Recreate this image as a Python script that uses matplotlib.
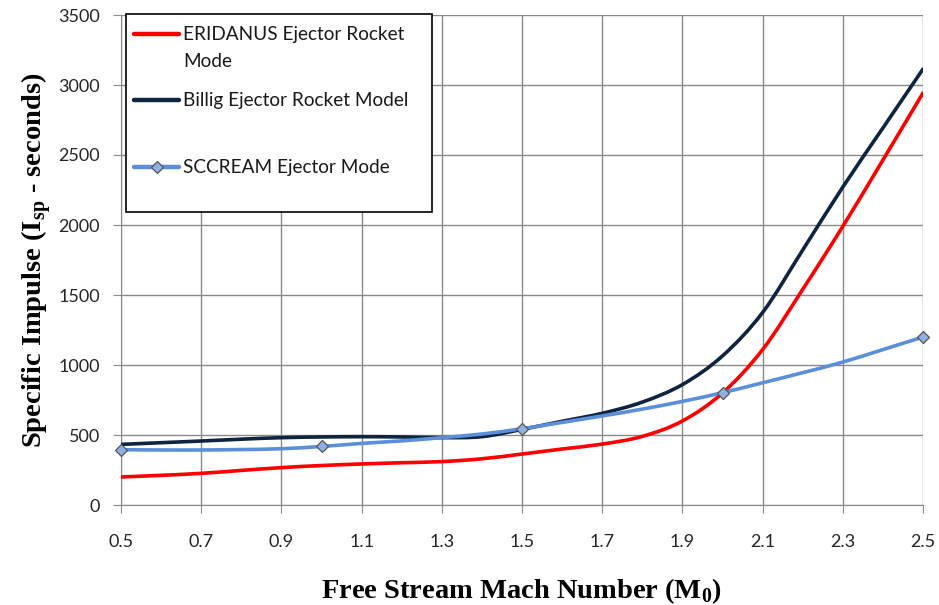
import numpy as np
import matplotlib.pyplot as plt
from matplotlib.path import Path
from matplotlib.patches import PathPatch, Rectangle
from matplotlib.lines import Line2D

plt.rcParams.update({
    "font.family": ["Lato", "DejaVu Sans"],
    "mathtext.fontset": "custom",
    "mathtext.rm": "Liberation Serif:bold",
    "mathtext.bf": "Liberation Serif:bold",
})

# Mach number, 0.1 steps
mach = [0.5, 0.6, 0.7, 0.8, 0.9, 1.0, 1.1, 1.2, 1.3, 1.4, 1.5,
        1.6, 1.7, 1.8, 1.9, 2.0, 2.1, 2.2, 2.3, 2.4, 2.5]

eridanus = [200, 212, 226, 247, 267, 282, 293, 302, 310, 330, 364,
            400, 435, 490, 600, 800, 1110, 1540, 1990, 2464, 2943]
billig = [433, 445, 457, 470, 481, 486, 488, 486, 481, 488, 540,
          598, 655, 735, 860, 1065, 1375, 1821, 2271, 2693, 3114]
sccream = [395, 393, 393, 396, 402, 418, 440, 458, 481, 507, 545,
           590, 636, 685, 740, 802, 873, 945, 1021, 1110, 1200]
sccream_marks = [0, 5, 10, 15, 20]

xticks = [0.5, 0.7, 0.9, 1.1, 1.3, 1.5, 1.7, 1.9, 2.1, 2.3, 2.5]
yticks = [0, 500, 1000, 1500, 2000, 2500, 3000, 3500]

labels = ["ERIDANUS Ejector Rocket\nMode", "Billig Ejector Rocket Model", "SCCREAM Ejector Mode"]
colors = ["#ff0000", "#0f243e", "#5b8fd9"]


def smooth_path(x, y):
    # smoothed line like a spreadsheet chart: Catmull-Rom through the points as Bezier segments
    x = np.asarray(x, float)
    y = np.asarray(y, float)
    pts = np.column_stack([x, y])
    verts = [pts[0]]
    codes = [Path.MOVETO]
    n = len(pts)
    for i in range(n - 1):
        p0 = pts[i - 1] if i > 0 else pts[i]
        p1, p2 = pts[i], pts[i + 1]
        p3 = pts[i + 2] if i + 2 < n else pts[i + 1]
        verts += [p1 + (p2 - p0) / 6, p2 - (p3 - p1) / 6, p2]
        codes += [Path.CURVE4] * 3
    return Path(verts, codes)


fig = plt.figure(figsize=(9.39, 6.05), dpi=100)
ax = fig.add_axes([121 / 939, 1 - 505 / 605, 802 / 939, 490 / 605])

lw = 2.6
ax.add_patch(PathPatch(smooth_path(mach, billig), fill=False, ec=colors[1], lw=lw, zorder=3,
                       capstyle="round"))
ax.add_patch(PathPatch(smooth_path(mach, eridanus), fill=False, ec=colors[0], lw=lw, zorder=4,
                       capstyle="round"))
ax.add_patch(PathPatch(smooth_path(mach, sccream), fill=False, ec=colors[2], lw=lw, zorder=5,
                       capstyle="round"))
mk = dict(marker="D", markersize=6.5, markerfacecolor="#8eb0e3", markeredgecolor="#555555",
          markeredgewidth=0.9)
ax.plot([mach[i] for i in sccream_marks], [sccream[i] for i in sccream_marks],
        ls="none", zorder=6, clip_on=False, **mk)

ax.set_xlim(0.5, 2.5)
ax.set_ylim(0, 3500)
ax.set_xticks(xticks)
ax.set_xticklabels([f"{t:.1f}" for t in xticks])
ax.set_yticks(yticks)
ax.grid(True, color="#8a8a8a", lw=1.0)
ax.set_axisbelow(True)
for s in ["top", "right"]:
    ax.spines[s].set_visible(False)
for s in ["left", "bottom"]:
    ax.spines[s].set_color("#8a8a8a")
ax.tick_params(axis="both", colors="#8a8a8a", labelcolor="#262626", labelsize=13, length=6)
ax.tick_params(axis="x", pad=15)
ax.tick_params(axis="y", pad=9)

ax.set_xlabel("Free Stream Mach Number (M$_0$)", family="Liberation Serif",
              fontweight="bold", fontsize=20.5)
ax.set_ylabel(r"Specific Impulse (I$_{\mathbf{sp}}$ - seconds)", family="Liberation Serif",
              fontweight="bold", fontsize=20.5)
ax.xaxis.set_label_coords(0.5, (505 - 576) / 490)
ax.yaxis.set_label_coords((54 - 121) / 802, 0.5)

# legend box drawn in figure pixels
def fx(px):
    return px / 939


def fy(py):
    return 1 - py / 605


fig.add_artist(Rectangle((fx(126), fy(212)), fx(432) - fx(126), fy(14) - fy(212),
                         transform=fig.transFigure, fc="white", ec="black", lw=1.2, zorder=10))
rows = [34, 100, 167]
for lab, col, ry in zip(labels, colors, rows):
    fig.add_artist(Line2D([fx(134), fx(179)], [fy(ry), fy(ry)], transform=fig.transFigure,
                          color=col, lw=lw + 0.6, solid_capstyle="round", zorder=11))
    fig.text(fx(183), fy(ry - 8), lab, ha="left", va="top", fontsize=13.7, color="#1a1a1a",
             linespacing=1.7, zorder=12)
fig.add_artist(Line2D([fx(156.5)], [fy(167)], transform=fig.transFigure, zorder=12, **mk))

fig.savefig("out.png", dpi=100)
